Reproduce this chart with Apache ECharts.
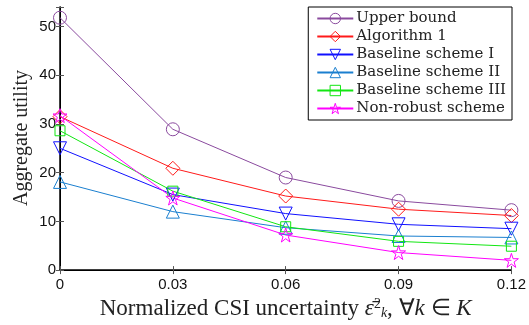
<!DOCTYPE html>
<html>
<head>
<meta charset="utf-8">
<script src="https://cdn.jsdelivr.net/npm/echarts@6/dist/echarts.min.js"></script>
<style>
  html, body { margin: 0; padding: 0; background: #fff; }
  #chart { width: 529px; height: 325px; }
</style>
</head>
<body>
<div id="chart"></div>
<script>
// x values (normalized CSI uncertainty)
const xValues = [0, 0.03, 0.06, 0.09, 0.12];
const upperBound = [51.8, 28.9, 19.0, 14.2, 12.3];
const algorithm1 = [31.5, 20.9, 15.2, 12.5, 11.2];
const baselineI = [25.0, 15.5, 11.6, 9.4, 8.5];
const baselineII = [18.1, 12.0, 8.7, 7.0, 6.7];
const baselineIII = [28.6, 16.2, 8.9, 5.9, 4.9];
const nonRobust = [31.7, 14.8, 7.2, 3.6, 2.0];

const starPath = 'path://M0,-100L22.45,-30.9L95.1,-30.9L36.3,11.8L58.8,80.9L0,38.2L-58.8,80.9L-36.3,11.8L-95.1,-30.9L-22.45,-30.9Z';

const pair = (ys) => xValues.map((x, i) => [x, ys[i]]);
const hollow = (color) => ({ color: 'rgba(255,255,255,0)', borderColor: color, borderWidth: 1 });

const mkSeries = (name, ys, color, symbol, size, rotate) => ({
  name,
  type: 'line',
  data: pair(ys),
  symbol,
  symbolSize: size,
  symbolRotate: rotate || 0,
  color,
  lineStyle: { color, width: 1 },
  itemStyle: hollow(color),
  emphasis: { disabled: true },
  animation: false,
});

const seriesList = [
  mkSeries('Upper bound', upperBound, '#8a4a9e', 'circle', 13),
  mkSeries('Algorithm 1', algorithm1, '#ff1a1a', 'diamond', 14),
  mkSeries('Baseline scheme I', baselineI, '#1010ff', 'triangle', 13, 180),
  mkSeries('Baseline scheme II', baselineII, '#1a7fcf', 'triangle', 13),
  mkSeries('Baseline scheme III', baselineIII, '#12e612', 'rect', 10),
  mkSeries('Non-robust scheme', nonRobust, '#ff00ff', starPath, 14),
];

const chart = echarts.init(document.getElementById('chart'));
const option = {
  animation: false,
  grid: { left: 60, right: 17, top: 7, bottom: 52 },
  legend: {
    right: 17,
    top: 7,
    orient: 'vertical',
    backgroundColor: '#fff',
    borderColor: '#000',
    borderWidth: 1,
    borderRadius: 0,
    padding: [3, 6, 3, 8],
    itemWidth: 36,
    itemHeight: 13,
    itemGap: 1,
    data: seriesList.map((s) => ({ name: s.name, itemStyle: hollow(s.color) })),
    textStyle: { fontFamily: 'DejaVu Serif', fontSize: 15, lineHeight: 17, color: '#222', padding: [0, 0, 0, -2] },
  },
  graphic: [
    {
      type: 'text',
      x: 22,
      y: 138,
      rotation: Math.PI / 2,
      style: {
        text: 'Aggregate utility',
        fontFamily: 'Liberation Serif',
        fontSize: 20,
        fill: '#222',
        align: 'center',
        verticalAlign: 'middle',
      },
    },
  ],
  xAxis: [
    {
      type: 'value',
      min: 0,
      max: 0.12,
      interval: 0.03,
      name: '{t|Normalized CSI uncertainty }{e|ε̄}{s|2}{b|k}{t|, ∀}{i|k}{t| ∈ }{i|K}',
      nameLocation: 'middle',
      nameGap: 26,
      nameTextStyle: {
        rich: {
          t: { fontFamily: 'Liberation Serif', fontSize: 23, color: '#222' },
          e: { fontFamily: 'Liberation Serif', fontSize: 23, fontStyle: 'italic', color: '#222' },
          i: { fontFamily: 'Liberation Serif', fontSize: 23, fontStyle: 'italic', color: '#222' },
          s: { fontFamily: 'Liberation Serif', fontSize: 14, color: '#222', verticalAlign: 'top', padding: [0, 0, 8, 0] },
          b: { fontFamily: 'Liberation Serif', fontSize: 14, fontStyle: 'italic', color: '#222', verticalAlign: 'bottom', padding: [8, 0, 0, 0] },
        },
      },
      axisLine: { lineStyle: { color: '#000', width: 1.5 } },
      axisTick: { inside: true, length: 4, lineStyle: { color: '#555' } },
      axisLabel: {
        color: '#111',
        fontFamily: 'Liberation Sans',
        fontSize: 15,
        margin: 7,
        formatter: (v) => (v === 0 ? '0' : v.toFixed(2)),
      },
      splitLine: { show: false },
    },
    {
      type: 'value',
      position: 'top',
      min: 0,
      max: 0.12,
      interval: 0.03,
      axisLine: { show: true, lineStyle: { color: '#000', width: 1 } },
      axisTick: { inside: true, length: 4, lineStyle: { color: '#555' } },
      axisLabel: { show: false },
      splitLine: { show: false },
    },
  ],
  yAxis: [
    {
      type: 'value',
      min: 0,
      max: 54,
      interval: 10,
      axisLine: { show: true, lineStyle: { color: '#000', width: 1.5 } },
      axisTick: { show: true, inside: true, length: 4, lineStyle: { color: '#555' } },
      axisLabel: {
        color: '#111',
        fontFamily: 'Liberation Sans',
        fontSize: 15,
        margin: 4,
        formatter: (v) => (v % 10 === 0 ? String(v) : ''),
      },
      splitLine: { show: false },
    },
    {
      type: 'value',
      position: 'right',
      min: 0,
      max: 54,
      interval: 10,
      axisLine: { show: true, lineStyle: { color: '#000', width: 1 } },
      axisTick: { show: true, inside: true, length: 4, lineStyle: { color: '#555' } },
      axisLabel: { show: false },
      splitLine: { show: false },
    },
  ],
  series: seriesList,
};
chart.setOption(option);
</script>
</body>
</html>
